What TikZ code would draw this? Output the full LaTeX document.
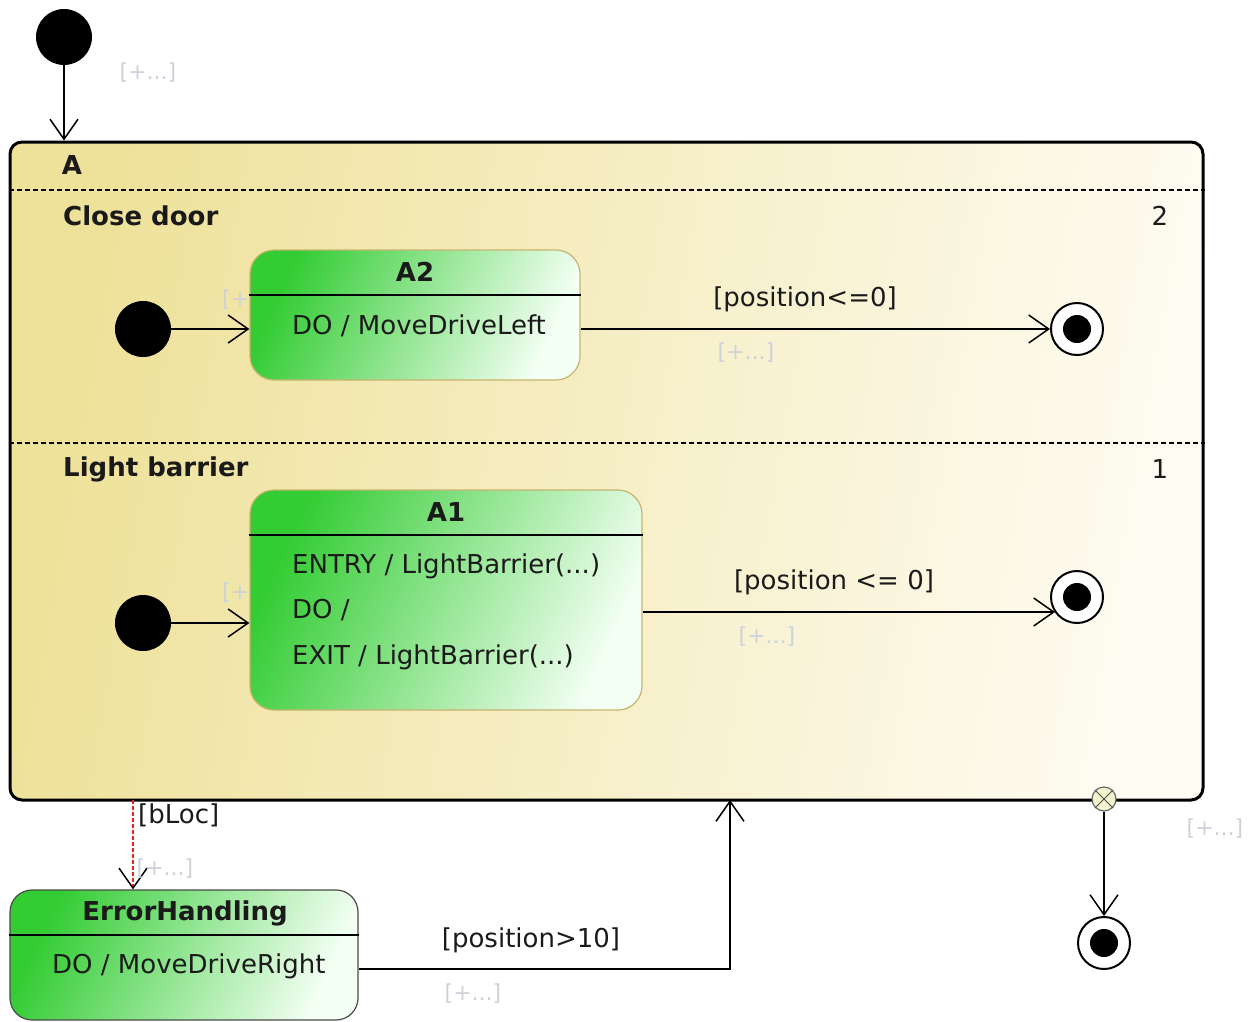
\documentclass[tikz,border=0pt]{standalone}
\usepackage{fontspec}
\setmainfont{DejaVu Sans}
\usepackage{xcolor}
\usepackage{tikz}
\usetikzlibrary{positioning,arrows.meta}
\definecolor{ink}{HTML}{1A1A1A}
\definecolor{hint}{HTML}{CDD2DA}
\definecolor{regleft}{HTML}{EEE199}
\definecolor{regright}{HTML}{FEFCF2}
\definecolor{stgreen}{HTML}{33CC33}
\definecolor{stpale}{HTML}{F4FFF4}
\definecolor{stedge}{HTML}{C8B46E}
\definecolor{ehedge}{HTML}{4A4A4A}
\definecolor{exitfill}{HTML}{F2F2CC}
\definecolor{errred}{HTML}{E8241E}

\begin{document}
\begin{tikzpicture}[x=1pt,y=-1pt,font=\fontsize{26}{30}\selectfont,text=ink,
     ini/.style={circle,fill=black,minimum size=56pt,inner sep=0pt},
     fin/.style={circle,draw=black,line width=2pt,fill=white,minimum size=52pt,inner sep=0pt,
        path picture={\fill[black](path picture bounding box.center) circle (14pt);}},
     stbox/.style={draw=stedge,line width=1.2pt,rounded corners=24pt,left color=stgreen,right color=stpale,shading angle=65,inner sep=0pt},
     ttl/.style={font=\fontsize{26}{30}\selectfont\bfseries,inner sep=0pt},
     txt/.style={anchor=west,inner sep=0pt},
     hnt/.style={inner sep=0pt,text=hint,font=\fontsize{22}{26}\selectfont},
     hdr/.style={line width=2pt},
     sepl/.style={line width=1.8pt,dash pattern=on 5pt off 3pt},
     tr/.style={line width=1.5pt,-{Straight Barb[length=20pt,width=28pt]}}]
  \useasboundingbox (0,0) rectangle (1250,1021);
  % composite state A with two regions
  \node[draw,line width=3pt,rounded corners=12pt,left color=regleft,right color=regright,shading angle=80,
        minimum width=1193pt,minimum height=658pt](A) at (606.5,471){};
  \coordinate (s1) at (0,190); \coordinate (s2) at (0,443);
  \draw[sepl] (A.west |- s1) -- (A.east |- s1);
  \draw[sepl] (A.west |- s2) -- (A.east |- s2);
  \node[ttl](Atl) at (72,165){A};
  \node[ttl,anchor=west](r2) at (63,216){Close door};    \node(r2n) at (1160,216){2};
  \node[ttl,anchor=west](r1) at (63,469){Light barrier}; \node(r1n) at (1160,469){1};
  \node[hnt,anchor=west](h2) at (222,300){[+...]};  \node[hnt,anchor=west](h1) at (222,593){[+...]};
  % states
  \node[stbox,minimum width=330pt,minimum height=130pt](A2) at (415,315){};
  \node[stbox,minimum width=392pt,minimum height=220pt](A1) at (446,600){};
  \node[stbox,draw=ehedge,rounded corners=22pt,minimum width=348pt,minimum height=130pt](EH) at (184,955){};
  \coordinate (l2) at (0,295); \coordinate (l1) at (0,535); \coordinate (le) at (0,935);
  \draw[hdr] (A2.west |- l2) -- (A2.east |- l2);
  \draw[hdr] (A1.west |- l1) -- (A1.east |- l1);
  \draw[hdr] (EH.west |- le) -- (EH.east |- le);
  \node[ttl](A2t) at (415,272){A2};  \node[ttl](A1t) at (446,512){A1};  \node[ttl](EHt) at (185,913){ErrorHandling};
  \node[txt](A2d) at (292,326){DO / MoveDriveLeft};
  \node[txt](A1a) at (292,566){ENTRY / LightBarrier(...)};
  \node[txt](A1b) at (292,610){DO /};
  \node[txt](A1c) at (292,657){EXIT / LightBarrier(...)};
  \node[txt](EHd) at (52,966){DO / MoveDriveRight};
  % pseudo states
  \node[ini](in0) at (64,37){};  \node[ini](in2) at (143,329){};  \node[ini](in1) at (143,623){};
  \node[fin](f2) at (1077,329){}; \node[fin](f1) at (1077,597){}; \node[fin](f3) at (1104,943){};
  \node[circle,draw=black!60,line width=1.2pt,fill=exitfill,minimum size=24pt,inner sep=0pt](X) at (1104,799){};
  \draw[black!70,line width=1pt] (X.45) -- (X.225) (X.135) -- (X.315);
  % transitions
  \coordinate (t1) at (1055,612); \coordinate (rj) at (730,800); \coordinate (r0) at (0,969); \coordinate (e0) at (133,800);
  \draw[tr] (in0) -- (in0 |- A.north);
  \foreach \i/\j in {in2/A2,in1/A1}{\draw[tr] (\i) -- (\i -| \j.west);}
  \draw[tr] (A2.east |- f2) -- (f2);
  \draw[tr] (A1.east |- t1) -- (t1);
  \draw[tr] (X) -- (f3);
  \draw[tr] (EH.east |- r0) -| (rj);
  \draw[line width=1.5pt,errred,dash pattern=on 4pt off 2pt,-{Straight Barb[length=20pt,width=28pt,color=black]}] (e0) -- (e0 |- EH.north);
  % guards
  \node(g2) at (805,299){[position<=0]};     \node[hnt](g2h) at (746,353){[+...]};
  \node(g1) at (834,582){[position <= 0]};   \node[hnt](g1h) at (767,637){[+...]};
  \node(ge) at (531,940){[position>10]};     \node[hnt](geh) at (473,994){[+...]};
  \node[txt](gb) at (138,815){[bLoc]};       \node[hnt](gbh) at (165,869){[+...]};
  \node[hnt](g0h) at (148,73){[+...]};       \node[hnt](gxh) at (1215,829){[+...]};
\end{tikzpicture}
\end{document}
